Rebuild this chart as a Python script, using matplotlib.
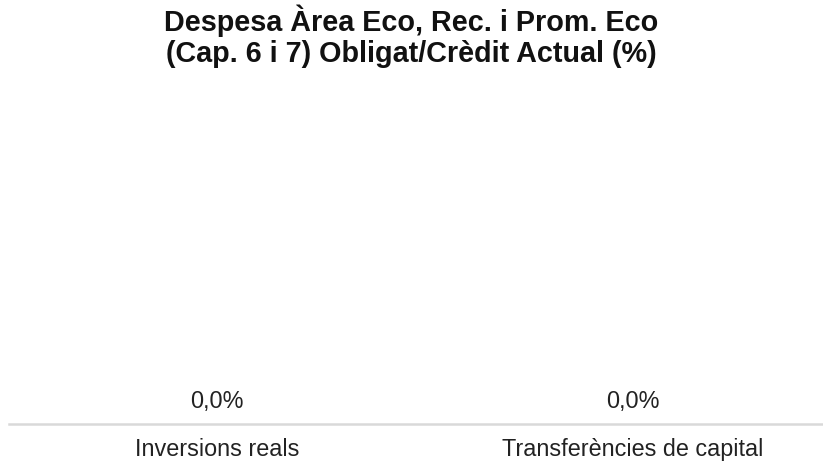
import matplotlib.pyplot as plt

plt.rcParams['font.family'] = ['Liberation Sans', 'DejaVu Sans']

categories = ['Inversions reals', 'Transferències de capital']
values = [0.0, 0.0]
title = 'Despesa Àrea Eco, Rec. i Prom. Eco\n(Cap. 6 i 7) Obligat/Crèdit Actual (%)'

fig = plt.figure(figsize=(8.23, 4.63), dpi=100)
ax = fig.add_axes([9 / 823, 1 - 424 / 463, 832 / 823, (424 - 90) / 463])

x = range(len(categories))
bars = ax.bar(x, values, width=0.6, color='#4472c4')
ax.set_xlim(-0.5, len(categories) - 0.5)
ax.set_ylim(0, 1)

for xi, v in zip(x, values):
    ax.annotate(f'{v:.1f}%'.replace('.', ','), (xi, v), xytext=(0, 8),
                textcoords='offset points', ha='center', va='bottom',
                fontsize=16.8, color='#222222')

ax.set_xticks(list(x))
ax.set_xticklabels(categories, fontsize=16.8, color='#222222')
ax.tick_params(axis='x', length=0, pad=10)
ax.set_yticks([])
for side in ['top', 'right', 'left']:
    ax.spines[side].set_visible(False)
ax.spines['bottom'].set_color('#d9d9d9')
ax.spines['bottom'].set_linewidth(1.8)

fig.text(0.5, 1 - 36 / 463, title, ha='center', va='center', fontsize=20.7,
         fontweight='bold', color='#111111', linespacing=1.15)

fig.savefig('out.png', dpi=100, facecolor='white')
